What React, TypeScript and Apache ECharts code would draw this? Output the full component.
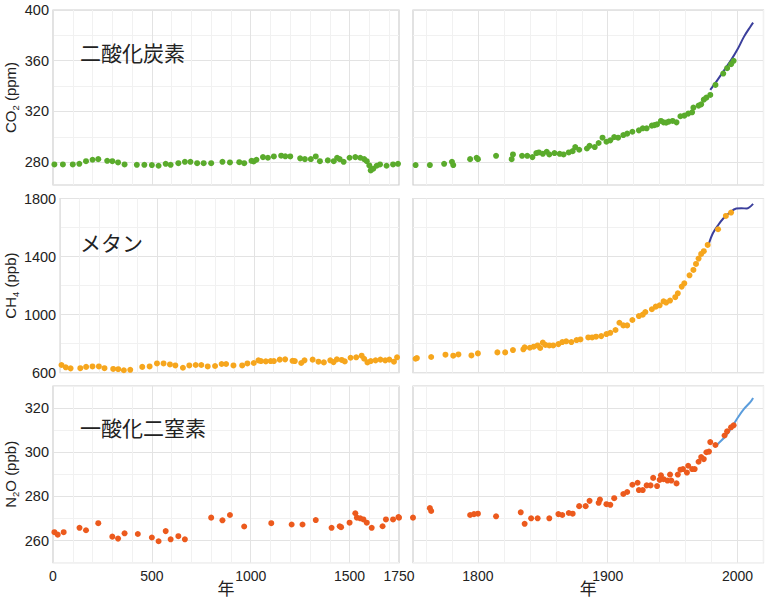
import React, { useEffect, useRef } from "react";
import * as echarts from "echarts";

// ---------- data: [year, value] ----------
const co2Ice: [number, number][] = [
  [7, 278.2], [50, 278.2], [100, 278.2], [133, 278.7], [167, 280.8], [200, 281.9], [229, 282.4], [274, 281.1],
  [300, 280.8], [329, 279.8], [362, 278.2], [424, 277.9], [462, 277.9], [500, 277.7], [534, 277.2], [570, 278.7],
  [595, 277.9], [634, 279.2], [667, 280.3], [695, 280.3], [729, 279.2], [762, 279.2], [800, 279.2], [857, 280.3],
  [895, 279.8], [942, 280], [967, 279.2], [1004, 281.1], [1015, 280.6], [1029, 281.9], [1062, 284], [1087, 283.5],
  [1117, 284.5], [1154, 285.1], [1175, 284.6], [1200, 284.5], [1250, 283], [1274, 282.4], [1304, 282.4], [1329, 284.5],
  [1350, 280.8], [1390, 281.4], [1420, 280.8], [1437, 283.5], [1450, 282.4], [1470, 280.3], [1500, 283.5], [1529, 284],
  [1554, 283.5], [1574, 282.4], [1587, 280.8], [1600, 277.4], [1607, 273.5], [1620, 274.8], [1637, 277.2], [1654, 278.2],
  [1687, 277.2], [1720, 278.2], [1745, 278.7],
  [1752, 277.7], [1763, 277.7], [1774, 278.7], [1780, 280.3], [1781, 277.7], [1794, 282.4], [1799, 283.5], [1800, 282.4],
  [1814, 285], [1826, 282.4], [1827, 286.1], [1834, 285], [1838, 285], [1842, 284], [1845, 287.2], [1847, 287.7],
  [1850, 286.6], [1853, 288.2], [1855, 286.1], [1859, 287.2], [1863, 286.6], [1866, 286.1], [1870, 287.7], [1873, 288.7],
  [1875, 291.9], [1878, 289.8], [1884, 290.8], [1886, 292.9], [1890, 291.9], [1893, 295.1], [1896, 299.3], [1899, 296.1],
  [1902, 297.2], [1905, 299.8], [1908, 299.3], [1912, 301.4], [1915, 302.5], [1919, 304], [1924, 305.1], [1927, 306.7],
  [1930, 306.7], [1934, 308.8], [1936, 309.2], [1938, 309.8], [1941, 312.5], [1943, 311.4], [1945, 311.2], [1947, 312],
  [1950, 312.5], [1953, 311.4], [1956, 316.2], [1959, 316.7], [1962, 318.3], [1965, 319.3], [1966, 323], [1970, 324.6],
  [1972, 325.6], [1974, 329.3], [1976, 330.9], [1979, 333], [1983, 340.9], [1989, 349.9], [1992, 354.1], [1995, 357.3],
  [1997, 359.9],
];
const co2Direct: [number, number][] = [
  [1979, 337], [1985, 345.5], [1990, 353], [1995, 360.5], [2000, 369], [2005, 379], [2010, 387], [2012, 390],
];

const ch4Ice: [number, number][] = [
  [7, 653], [29, 637], [54, 630], [104, 631], [134, 640], [167, 643], [200, 643], [229, 631], [274, 626], [300, 624],
  [329, 617], [362, 620], [424, 640], [462, 643], [500, 664], [534, 664], [567, 657], [595, 650], [634, 634], [667, 650],
  [700, 653], [729, 653], [762, 643], [800, 646], [834, 660], [857, 660], [895, 650], [940, 650], [967, 664], [1000, 667],
  [1024, 685], [1037, 680], [1062, 678], [1087, 680], [1104, 680], [1134, 690], [1162, 692], [1200, 682], [1212, 680],
  [1245, 667], [1262, 685], [1304, 690], [1334, 676], [1362, 671], [1395, 685], [1412, 673], [1429, 692], [1454, 688],
  [1470, 678], [1500, 703], [1529, 706], [1557, 717], [1570, 696], [1587, 671], [1604, 680], [1629, 685], [1654, 690],
  [1679, 685], [1700, 690], [1724, 676], [1740, 706],
  [1752, 696], [1753, 701], [1764, 708], [1775, 724], [1781, 717], [1785, 726], [1795, 719], [1800, 733], [1815, 740],
  [1821, 740], [1827, 756], [1835, 761], [1836, 775], [1840, 772], [1843, 779], [1846, 788], [1848, 770], [1850, 807],
  [1852, 791], [1855, 788], [1858, 788], [1862, 797], [1865, 811], [1868, 816], [1872, 811], [1876, 825], [1879, 829],
  [1885, 843], [1888, 843], [1891, 848], [1895, 852], [1899, 866], [1902, 875], [1906, 894], [1909, 944], [1912, 926],
  [1915, 926], [1919, 963], [1924, 990], [1927, 1000], [1929, 1018], [1934, 1037], [1937, 1055], [1940, 1064],
  [1943, 1092], [1945, 1083], [1948, 1097], [1952, 1120], [1954, 1147], [1957, 1193], [1959, 1216], [1963, 1271],
  [1966, 1308], [1968, 1349], [1970, 1386], [1972, 1418], [1974, 1437], [1977, 1480], [1985, 1588], [1991, 1680],
  [1995, 1703],
];
const ch4Direct: [number, number][] = [
  [1978, 1492], [1981, 1561], [1985, 1616], [1989, 1662], [1994, 1703], [1999, 1731], [2003, 1733], [2007, 1731], [2012, 1763],
];

const n2oIce: [number, number][] = [
  [7, 263.8], [24, 262.7], [54, 263.8], [134, 265.8], [167, 264.7], [229, 267.9], [300, 261.8], [329, 260.9], [362, 263.3],
  [429, 263], [500, 261.4], [534, 259.7], [570, 264.3], [595, 260.6], [634, 262], [667, 260.6], [800, 270.4], [857, 269.2],
  [895, 271.6], [967, 266.4], [1104, 267.9], [1207, 267.3], [1262, 267.3], [1329, 269.3], [1409, 265.8], [1450, 266.5],
  [1457, 266.1], [1500, 268.1], [1529, 272.4], [1537, 270.4], [1554, 270.1], [1570, 269.6], [1587, 268.1], [1612, 265.8],
  [1667, 266.5], [1684, 269.6], [1720, 269.6], [1747, 270.7],
  [1750, 270.4], [1763, 274.7], [1764, 273.4], [1794, 271.6], [1797, 272], [1800, 272.2], [1814, 271], [1833, 272.8],
  [1836, 267.6], [1841, 270.1], [1846, 270.1], [1855, 270.1], [1862, 272], [1865, 271.6], [1870, 272.5], [1873, 272.2],
  [1878, 275.6], [1883, 275.6], [1886, 278], [1893, 277.1], [1894, 278.6], [1899, 276.5], [1902, 276.2], [1905, 279.2],
  [1912, 281.1], [1915, 282], [1919, 285.3], [1923, 286.2], [1924, 282.9], [1927, 282.9], [1930, 285], [1933, 285],
  [1935, 288.4], [1938, 284.7], [1940, 287.5], [1941, 289.6], [1943, 287.8], [1946, 287.2], [1948, 289.9], [1949, 287.2],
  [1953, 285.9], [1954, 289.9], [1956, 292.1], [1958, 292.4], [1961, 290.8], [1962, 293.9], [1965, 292.4], [1967, 292.4],
  [1970, 295.7], [1972, 297.8], [1974, 296.9], [1976, 300], [1978, 300.3], [1979, 304.6], [1983, 303.3], [1990, 307.6],
  [1992, 309.5], [1995, 311.3], [1997, 312.2],
];
const n2oDirect: [number, number][] = [
  [1982, 302.4], [1985, 303.9], [1990, 306.8], [1995, 310.7], [2000, 315.5], [2005, 319.6], [2010, 322.8], [2012, 324.6],
];

const rowTitles = ["二酸化炭素", "メタン", "一酸化二窒素"];
const yNames = ["CO{s|2} (ppm)", "CH{s|4} (ppb)", "N{s|2}O (ppb)"];
const leftXLabels = [0, 500, 1000, 1500, 1750];
const rightXLabels = [1800, 1900, 2000];
const co2Labels = [280, 320, 360, 400];
const ch4Labels = [600, 1000, 1400, 1800];
const n2oLabels = [260, 280, 300, 320];
const xTitle = "年";

// ---------- styling / layout ----------
const FONT = "'Liberation Sans', Arial, sans-serif";
const CJK = "'Noto Sans CJK JP', sans-serif";
const MAJ = "#e3e3e3";
const MIN = "#f1f1f1";
const NONE = "rgba(0,0,0,0)";
const COLORS = ["#5aab2c", "#f6a61d", "#ec5a1d"];
const LINE_COLORS = ["#3b3f9c", "#3b3f9c", "#5b9ddc"];

const rowTop = [10, 198.5, 386];
const rowHeight = [175, 174.2, 176.7];
const colLeft = [49, 413];
const colWidth = [350, 350.5];

function tickValues(min: number, max: number, step: number) {
  const out: number[] = [];
  for (let v = min; v <= max + 1e-9; v += step) out.push(Math.round(v * 1000) / 1000);
  if (out[out.length - 1] < max) out.push(max);
  return out;
}
function lineColors(min: number, max: number, step: number, major: number, minor: number, off = 0) {
  return tickValues(min, max, step).map((v) => {
    const rel = Math.round((v - off) * 1000) / 1000;
    if (Math.abs(rel % major) < 1e-6) return MAJ;
    if (Math.abs(rel % minor) < 1e-6) return MIN;
    return NONE;
  });
}

export default function App() {
  const ref = useRef<HTMLDivElement>(null);
  useEffect(() => {
    if (!ref.current) return;
    const chart = echarts.init(ref.current, null, { renderer: "svg" });

    const yCfg = [
      { min: 262, max: 400, step: 2, labels: co2Labels, major: 40, minor: 20, off: 0 },
      { min: 600, max: 1800, step: 200, labels: ch4Labels, major: 400, minor: 200, off: 200 },
      { min: 250, max: 330, step: 10, labels: n2oLabels, major: 20, minor: 10, off: 0 },
    ];
    const xCfg = [
      { min: 0, max: 1750, step: 100, labels: leftXLabels, major: 500, minor: 100 },
      { min: 1750, max: 2020, step: 10, labels: rightXLabels, major: 100, minor: 20 },
    ];
    const iceSets = [co2Ice, ch4Ice, n2oIce];
    const directSets = [co2Direct, ch4Direct, n2oDirect];

    const grid: any[] = [];
    const xAxis: any[] = [];
    const yAxis: any[] = [];
    const series: any[] = [];
    const graphic: any[] = [];

    for (let r = 0; r < 3; r++) {
      for (let c = 0; c < 2; c++) {
        const gi = r * 2 + c;
        grid.push({
          left: colLeft[c],
          top: rowTop[r],
          width: colWidth[c],
          height: rowHeight[r],
          show: true,
          borderColor: "#cfcfcf",
          borderWidth: 1.2,
          backgroundColor: "#fff",
        });
        const xc = xCfg[c];
        xAxis.push({
          type: "value",
          gridIndex: gi,
          min: xc.min,
          max: xc.max,
          interval: xc.step,
          axisLine: { show: false },
          axisTick: { show: false },
          splitLine: {
            show: true,
            lineStyle: { color: lineColors(xc.min, xc.max, xc.step, xc.major, xc.minor), width: 1 },
          },
          axisLabel: {
            show: r === 2,
            margin: 6,
            fontFamily: FONT,
            fontSize: 14,
            color: "#222",
            formatter: (v: number) => (xc.labels.includes(Math.round(v)) ? String(Math.round(v)) : ""),
          },
          name: r === 2 ? xTitle : "",
          nameLocation: "middle",
          nameGap: 16,
          nameMoveOverlap: false,
          nameTextStyle: { fontFamily: CJK, fontSize: 17, color: "#222", lineHeight: 18 },
        });
        const yc = yCfg[r];
        yAxis.push({
          type: "value",
          gridIndex: gi,
          min: yc.min,
          max: yc.max,
          interval: yc.step,
          axisLine: { show: false },
          axisTick: { show: false },
          splitLine: {
            show: true,
            lineStyle: { color: lineColors(yc.min, yc.max, yc.step, yc.major, yc.minor, yc.off), width: 1 },
          },
          axisLabel: {
            show: c === 0,
            margin: 4,
            fontFamily: FONT,
            fontSize: 14.5,
            color: "#222",
            formatter: (v: number) => (yc.labels.includes(Math.round(v)) ? String(Math.round(v)) : ""),
          },
          name: c === 0 ? yNames[r] : "",
          nameLocation: "middle",
          nameGap: 33,
          nameTextStyle: {
            fontFamily: FONT,
            fontSize: 15,
            color: "#222",
            lineHeight: 19,
            rich: { s: { fontFamily: FONT, fontSize: 9.5, lineHeight: 9, verticalAlign: "bottom", color: "#222" } },
          },
        });
      }
      const ice = iceSets[r];
      series.push({
        type: "scatter",
        xAxisIndex: r * 2,
        yAxisIndex: r * 2,
        data: ice.filter((d) => d[0] <= 1750),
        symbolSize: 6,
        itemStyle: { color: COLORS[r], opacity: 1 },
        z: 3,
      });
      series.push({
        type: "line",
        xAxisIndex: r * 2 + 1,
        yAxisIndex: r * 2 + 1,
        data: directSets[r],
        showSymbol: false,
        symbol: "none",
        smooth: 0.3,
        lineStyle: { color: LINE_COLORS[r], width: 2 },
        z: 2,
      });
      series.push({
        type: "scatter",
        xAxisIndex: r * 2 + 1,
        yAxisIndex: r * 2 + 1,
        data: ice.filter((d) => d[0] >= 1750),
        symbolSize: 6,
        itemStyle: { color: COLORS[r], opacity: 1 },
        z: 3,
      });
    }

    const titleY = [52, 242, 427];
    for (let r = 0; r < 3; r++) {
      graphic.push({
        type: "text",
        x: 80,
        y: titleY[r],
        z: 10,
        style: {
          text: rowTitles[r],
          fontFamily: CJK,
          fontSize: 21,
          fill: "#222",
          verticalAlign: "middle",
          align: "left",
        },
      });
    }

    chart.setOption({
      animation: false,
      backgroundColor: "#fff",
      grid,
      xAxis,
      yAxis,
      series,
      graphic,
    });
    return () => chart.dispose();
  }, []);

  return (
    <div
      ref={ref}
      style={{ position: "absolute", left: 0, top: 0, width: 768, height: 602, background: "#fff" }}
    />
  );
}
